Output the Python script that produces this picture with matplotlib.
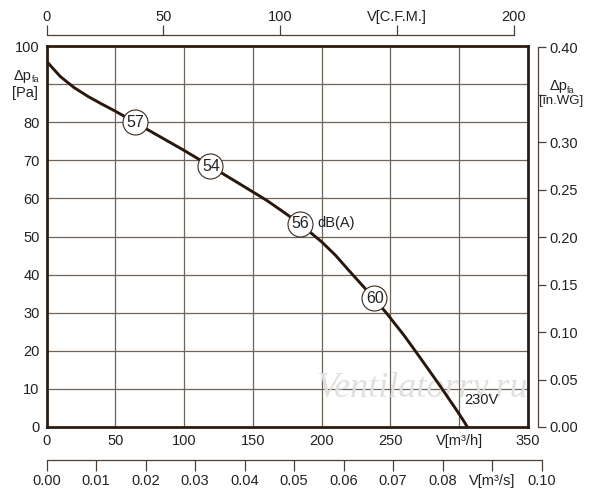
import matplotlib
matplotlib.use('Agg')
import matplotlib.pyplot as plt

plt.rcParams['font.family'] = ['Liberation Sans', 'DejaVu Sans']

# ---- data ----
flow = [0, 10, 20, 30, 40, 50, 64, 100, 119, 140, 150, 160, 172, 184, 200, 210, 220,
        230, 238, 248, 260, 268, 280, 287, 300, 306]
pressure = [96, 92, 89.1, 86.8, 84.8, 82.9, 80, 72.6, 68.5, 63.9, 61.7, 59.5, 56.5, 53.4,
            48.6, 45.1, 41.0, 37.0, 33.8, 29.5, 24.0, 20.0, 13.9, 10.3, 3.4, 0]
noise_flow = [64, 119, 184, 238]
noise_p = [80, 68.5, 53.4, 33.8]
noise_db = ['57', '54', '56', '60']

x_ticks = [0, 50, 100, 150, 200, 250, 300, 350]
x_labels = ['0', '50', '100', '150', '200', '250', 'V[m³/h]', '350']
y_ticks = [0, 10, 20, 30, 40, 50, 60, 70, 80, 90, 100]
y_labels = ['0', '10', '20', '30', '40', '50', '60', '70', '80', '', '100']
cfm_ticks = [0, 50, 100, 150, 200]
cfm_labels = ['0', '50', '100', 'V[C.F.M.]', '200']
m3s_ticks = [0, 0.01, 0.02, 0.03, 0.04, 0.05, 0.06, 0.07, 0.08, 0.09, 0.10]
m3s_labels = ['0.00', '0.01', '0.02', '0.03', '0.04', '0.05', '0.06', '0.07', '0.08', 'V[m³/s]', '0.10']
inwg_ticks = [0, 0.05, 0.10, 0.15, 0.20, 0.25, 0.30, 0.35, 0.40]
inwg_labels = ['0.00', '0.05', '0.10', '0.15', '0.20', '0.25', '0.30', '', '0.40']

W, H = 600, 500
TXT = '#222222'
FS = 10.5

fig = plt.figure(figsize=(6, 5), dpi=100)
fig.patch.set_facecolor('white')

L, R, T, B = 46.5, 528, 46, 427
ax = fig.add_axes([L / W, 1 - B / H, (R - L) / W, (B - T) / H])
ax.set_xlim(0, 350)
ax.set_ylim(0, 100)
ax.set_xticks(x_ticks)
ax.set_xticklabels(x_labels)
ax.set_yticks(y_ticks)
ax.set_yticklabels(y_labels)
ax.tick_params(length=0, pad=5, labelsize=FS, labelcolor=TXT)
ax.grid(True, color='#6e645a', linewidth=0.9)
ax.set_axisbelow(True)
for s in ax.spines.values():
    s.set_linewidth(2.0)
    s.set_color('#2b1d12')

ax.text(273, 10.2, 'Ventilatorry.ru', fontsize=26, style='italic', family='Liberation Serif',
        color='#e0e0e0', ha='center', va='center', zorder=1.5)

ax.plot(flow, pressure, color='#2a170c', linewidth=2.1, zorder=3,
        solid_joinstyle='round', solid_capstyle='butt')
ax.plot(noise_flow, noise_p, linestyle='none', marker='o', markersize=18,
        markerfacecolor='white', markeredgecolor='#3a2a1e', markeredgewidth=0.8, zorder=4)
for fx, fp, d in zip(noise_flow, noise_p, noise_db):
    ax.text(fx + 0.6, fp, d, fontsize=11.5, ha='center', va='center', color=TXT, zorder=5)
ax.text(197, 53.6, 'dB(A)', fontsize=FS, ha='left', va='center', color=TXT, zorder=5)
ax.text(304, 7, '230V', fontsize=FS, ha='left', va='center', color=TXT, zorder=5)

AXC = '#4a4038'

# top CFM axis
axt = fig.add_axes([L / W, 1 - 35 / H, (514 - L) / W, 1e-6])
axt.set_xlim(0, 200)
axt.patch.set_visible(False)
for k, s in axt.spines.items():
    s.set_visible(k == 'top')
axt.spines['top'].set_color(AXC)
axt.spines['top'].set_linewidth(0.9)
axt.xaxis.tick_top()
axt.set_xticks(cfm_ticks)
axt.set_xticklabels(cfm_labels)
axt.set_yticks([])
axt.tick_params(axis='x', direction='out', length=7, width=0.9, color=AXC, pad=1,
                labelsize=FS, labelcolor=TXT)

# bottom m3/s axis
axb = fig.add_axes([L / W, 1 - 460 / H, (541.7 - L) / W, 1e-6])
axb.set_xlim(0, 0.10)
axb.patch.set_visible(False)
for k, s in axb.spines.items():
    s.set_visible(k == 'bottom')
axb.spines['bottom'].set_color(AXC)
axb.spines['bottom'].set_linewidth(0.9)
axb.set_xticks(m3s_ticks)
axb.set_xticklabels(m3s_labels)
axb.set_yticks([])
axb.tick_params(axis='x', direction='out', length=8, width=0.9, color=AXC, pad=2,
                labelsize=FS, labelcolor=TXT)

# right in.WG axis
hr = (B - T) * (0.40 * 249.089 / 100.0)
axr = fig.add_axes([538 / W, 1 - B / H, 1e-6, hr / H])
axr.set_ylim(0, 0.40)
axr.patch.set_visible(False)
for k, s in axr.spines.items():
    s.set_visible(k == 'right')
axr.spines['right'].set_color(AXC)
axr.spines['right'].set_linewidth(0.9)
axr.yaxis.tick_right()
axr.set_yticks(inwg_ticks)
axr.set_yticklabels(inwg_labels)
axr.set_xticks([])
axr.tick_params(axis='y', direction='out', length=6, width=0.9, color=AXC, pad=2,
                labelsize=FS, labelcolor=TXT)

# axis titles
def ftxt(x, y, s, **kw):
    fig.text(x / W, 1 - y / H, s, color=TXT, **kw)

ftxt(32, 76, 'Δp', fontsize=FS, ha='right', va='center')
ftxt(32, 80, 'fa', fontsize=6.5, ha='left', va='center')
ftxt(25, 93, '[Pa]', fontsize=FS, ha='center', va='center')
ftxt(567, 86, 'Δp', fontsize=FS, ha='right', va='center')
ftxt(567, 91, 'fa', fontsize=6.5, ha='left', va='center')
ftxt(561, 101, '[in.WG]', fontsize=9.5, ha='center', va='center')

fig.savefig('out.png', dpi=100, facecolor='white')
